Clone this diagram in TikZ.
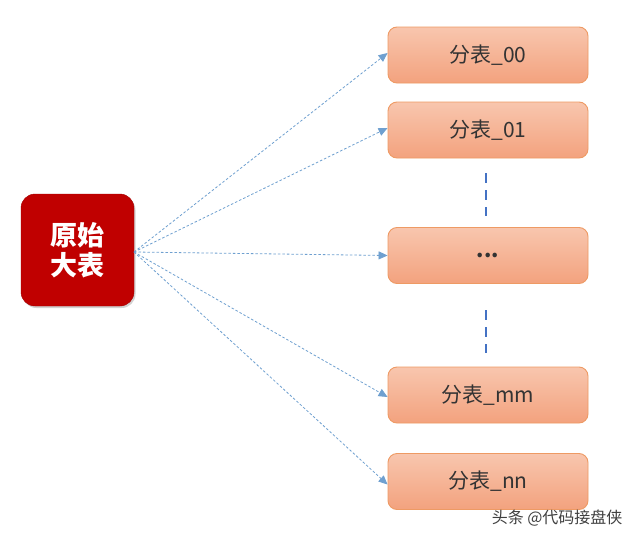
\documentclass[tikz,border=0pt]{standalone}
\usepackage{fontspec}
\setmainfont{Noto Sans CJK SC}
\usetikzlibrary{arrows.meta,shadows}
\definecolor{srcred}{HTML}{C00000}
\definecolor{tabtop}{HTML}{F8C6AE}
\definecolor{tabbot}{HTML}{F3A27E}
\definecolor{tabedge}{HTML}{EE9A64}
\definecolor{linkblue}{HTML}{6FA0D0}
\definecolor{dotblue}{HTML}{4472C4}
\tikzset{
  srcbox/.style={draw=srcred!85!black, fill=srcred, rounded corners=14pt,
    minimum width=113pt, minimum height=112pt, inner sep=0pt,
    text=white, font=\fontsize{27}{32}\selectfont\bfseries, align=center,
    drop shadow={opacity=0.35, shadow xshift=1.5pt, shadow yshift=-2pt}},
  tabbox/.style={draw=tabedge, line width=0.9pt, top color=tabtop, bottom color=tabbot,
    rounded corners=9pt, minimum width=200pt, minimum height=56pt, inner sep=0pt,
    text=black!80, font=\fontsize{21}{24}\selectfont},
  link/.style={draw=linkblue, dash pattern=on 2.5pt off 2pt, line width=0.8pt,
    -{Triangle[length=9pt,width=8pt,fill=linkblue]}},
  gap/.style={draw=dotblue, line width=2.4pt, dash pattern=on 10pt off 7pt}
}
\begin{document}
\begin{tikzpicture}[x=1pt,y=-1pt]
\useasboundingbox[fill=white] (0,0) rectangle (640,541);
\node[srcbox] (src) at (77.5,250) {原始\\[-2pt]大表};
\coordinate (hub) at (134,252);
\node[tabbox] (t00) at (488,55) {分表\_00};
\node[tabbox] (t01) at (488,130) {分表\_01};
\node[tabbox, font=\fontsize{21}{24}\selectfont\bfseries] (tdots) at (488,255.5) {...};
\node[tabbox] (tmm) at (488,395) {分表\_mm};
\node[tabbox] (tnn) at (488,481.5) {分表\_nn};
\coordinate (g1a) at (486,173);
\coordinate (g1b) at (486,216);
\coordinate (g2a) at (486,310);
\coordinate (g2b) at (486,353);
\draw[gap] (g1a) -- (g1b);
\draw[gap] (g2a) -- (g2b);
\draw[link] (hub) -- ([yshift=2pt]t00.west);
\draw[link] (hub) -- ([yshift=2pt]t01.west);
\draw[link] (hub) -- (tdots.west);
\draw[link] (hub) -- ([yshift=-2pt]tmm.west);
\draw[link] (hub) -- ([yshift=-3pt]tnn.west);
\node[font=\fontsize{16}{18}\selectfont, text=black!75, anchor=east] (wm) at (626,518) {头条 @代码接盘侠};
\end{tikzpicture}
\end{document}
